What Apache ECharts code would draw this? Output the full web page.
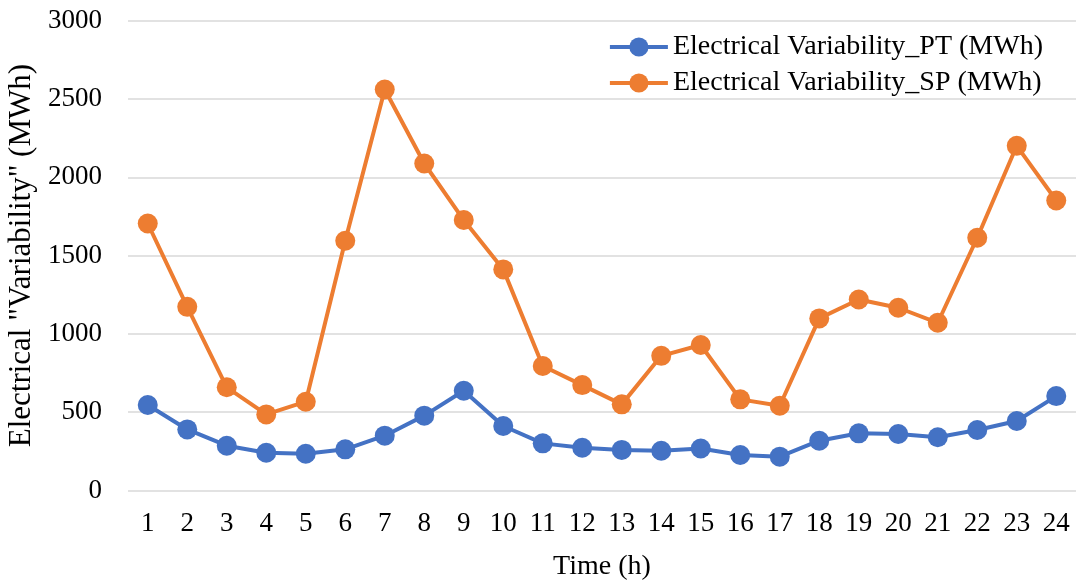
<!DOCTYPE html>
<html>
<head>
<meta charset="utf-8">
<script src="https://cdn.jsdelivr.net/npm/echarts@6/dist/echarts.min.js"></script>
<style>
  html, body { margin: 0; padding: 0; background: #fff; }
  #chart { width: 1079px; height: 586px; }
</style>
</head>
<body>
<div id="chart"></div>
<script>
const hours = ['1','2','3','4','5','6','7','8','9','10','11','12','13','14','15','16','17','18','19','20','21','22','23','24'];
const variabilityPT = [546, 390, 286, 241, 235, 263, 350, 478, 637, 412, 301, 273, 259, 254, 268, 227, 216, 318, 365, 361, 340, 386, 444, 603];
const variabilitySP = [1705, 1173, 659, 486, 567, 1595, 2561, 2088, 1727, 1412, 795, 673, 550, 860, 929, 582, 541, 1099, 1220, 1167, 1071, 1614, 2201, 1852];

const font = '"Liberation Serif", "Times New Roman", serif';
const chart = echarts.init(document.getElementById('chart'));

const makeSeries = (name, data, color) => ({
    type: 'line',
    name: name,
    data: data,
    symbol: 'circle',
    symbolSize: 20,
    lineStyle: { width: 4, color: color },
    itemStyle: { color: color },
    emphasis: { disabled: true },
});

chart.setOption({
    animation: false,
    grid: { left: 128, right: 3, top: 20.7, bottom: 95.5, outerBoundsMode: 'none' },
    legend: {
        orient: 'vertical',
        right: 31,
        top: 28,
        itemGap: 8,
        itemWidth: 58,
        itemHeight: 24,
        lineStyle: { width: 4 },
        textStyle: { fontFamily: font, fontSize: 28, color: '#000' },
    },
    xAxis: {
        type: 'category',
        data: hours,
        name: 'Time (h)',
        nameLocation: 'middle',
        nameGap: 62,
        nameTextStyle: { fontFamily: font, fontSize: 28, color: '#000' },
        axisLine: { show: false },
        axisTick: { show: false },
        axisLabel: { fontFamily: font, fontSize: 27, color: '#000', margin: 20 },
    },
    yAxis: {
        type: 'value',
        min: 0,
        max: 3000,
        interval: 500,
        name: 'Electrical "Variability" (MWh)',
        nameLocation: 'middle',
        nameGap: 91,
        nameTextStyle: { fontFamily: font, fontSize: 31, color: '#000' },
        axisLabel: { fontFamily: font, fontSize: 27, color: '#000', margin: 26, formatter: (v) => String(v) },
        splitLine: { lineStyle: { color: '#d9d9d9', width: 1.5 } },
    },
    series: [
        makeSeries('Electrical Variability_PT (MWh)', variabilityPT, '#4472C4'),
        makeSeries('Electrical Variability_SP (MWh)', variabilitySP, '#ED7D31'),
    ],
});
</script>
</body>
</html>
